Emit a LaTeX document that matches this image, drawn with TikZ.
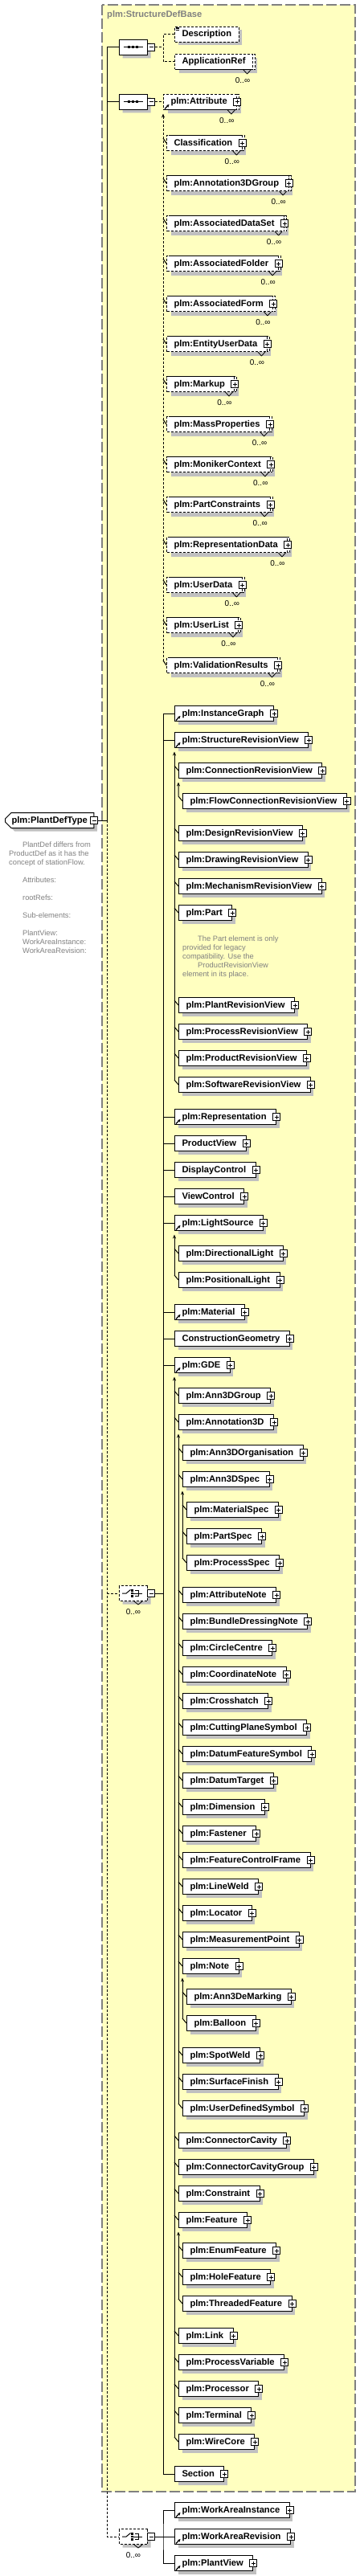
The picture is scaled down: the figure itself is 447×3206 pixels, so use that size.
\documentclass[tikz,border=0pt]{standalone}
\usepackage{fontspec}
\setmainfont{Liberation Sans}
\usetikzlibrary{shapes.misc,shadows,arrows.meta,calc}

\definecolor{basefill}{RGB}{255,255,192}
\definecolor{basegray}{RGB}{128,128,128}
\definecolor{shadowgray}{RGB}{192,192,192}
\definecolor{notegray}{RGB}{128,128,128}

\newcommand{\elemfont}{\fontsize{11.2}{13}\selectfont\bfseries}
\newcommand{\notefont}{\fontsize{9.3}{11}\selectfont}
\newcommand{\multfont}{\fontsize{10}{12}\selectfont}
\newcommand{\elemname}{}

% compositor icons
\newcommand{\seqicon}[1]{%
  \draw[line width=1pt] ([xshift=-12pt]#1.center) -- ([xshift=12pt]#1.center);
  \foreach \dx in {-6,-0.7,4.6}
    \fill ([shift={(\dx-1.5,-1.5)}]#1.center) rectangle ([shift={(\dx+1.5,1.5)}]#1.center);}
\newcommand{\choiceicon}[1]{%
  \draw[line width=1pt] ([shift={(-14,0)}]#1.center) -- ([shift={(-9,0)}]#1.center) -- ([shift={(-3.5,-4.5)}]#1.center);
  \foreach \dy in {-3.4,0,3.4}
    \fill ([shift={(-2.6,\dy-1.3)}]#1.center) rectangle ([shift={(0,\dy+1.3)}]#1.center);
  \draw[line width=1pt] ([shift={(1.5,-3.4)}]#1.center) -- ([shift={(6,-3.4)}]#1.center) -- ([shift={(6,3.4)}]#1.center) -- ([shift={(1.5,3.4)}]#1.center)
    (#1.center) -- ([shift={(11,0)}]#1.center);}

\tikzset{
  conn/.style={line width=1pt},
  optconn/.style={line width=1pt, dash pattern=on 3pt off 2pt},
  boxshadow/.style={drop shadow={shadow xshift=4pt, shadow yshift=-4pt, fill=shadowgray, opacity=1}},
  plusbox/.style={draw, solid, fill=white, line width=1pt, minimum size=9pt, inner sep=0pt,
    path picture={\draw[line width=1pt]
      ([xshift=2pt]path picture bounding box.west) -- ([xshift=-2pt]path picture bounding box.east)
      ([yshift=-2pt]path picture bounding box.north) -- ([yshift=2pt]path picture bounding box.south);}},
  minusbox/.style={draw, solid, fill=white, line width=1pt, minimum size=9pt, inner sep=0pt,
    path picture={\draw[line width=1pt]
      ([xshift=2pt]path picture bounding box.west) -- ([xshift=-2pt]path picture bounding box.east);}},
  plusmark/.style={execute at end node={\hspace*{3pt}},
    append after command={node[plusbox] at (\elemname.east) {}}},
  notchline/.style={solid, line width=0.8pt},
  mult/.style={font=\multfont, inner sep=0pt},
  elembox/.style={draw, fill=white, line width=1pt, anchor=west, font=\elemfont,
    minimum height=19pt, inner xsep=9pt, inner ysep=0pt, text height=8.5pt, text depth=2.5pt,
    append after command={\pgfextra{\xdef\elemname{\tikzlastnode}}}},
  optbox/.style={dash pattern=on 3pt off 2pt},
  manybox/.style={drop shadow={shadow xshift=5pt, shadow yshift=-5pt, fill=shadowgray, opacity=1},
    copy shadow={shadow xshift=3pt, shadow yshift=0pt, draw=black, fill=white, line width=1pt, dash pattern=on 3pt off 2pt},
    append after command={
      ([shift={(-12,0)}]\elemname.south east) edge[notchline] ([shift={(-7.5,5)}]\elemname.south east)
      ([shift={(-7.5,5)}]\elemname.south east) edge[notchline] ([shift={(-3,0)}]\elemname.south east)
      node[mult] at ([shift={(-13,13)}]\elemname.south east) {0..∞}}},
  refarrow/.style={solid, line width=1.2pt, -{Stealth[length=3.5pt,width=3.5pt]}},
  refmark/.style={append after command={
      ([shift={(2,-1.5)}]\elemname.south west) edge[refarrow] ([shift={(7.5,-7)}]\elemname.south west)}},
  docline/.style={solid, line width=0.7pt},
  docmark/.style={append after command={
      ([shift={(1.5,1.2)}]\elemname.north west) edge[docline] ([shift={(5.5,1.2)}]\elemname.north west)
      ([shift={(1.5,2.8)}]\elemname.north west) edge[docline] ([shift={(5.5,2.8)}]\elemname.north west)
      ([shift={(1.5,4.4)}]\elemname.north west) edge[docline] ([shift={(5.5,4.4)}]\elemname.north west)}},
  elem/.style={elembox, boxshadow, plusmark},
  refelem/.style={elem, refmark},
  optmany/.style={elembox, optbox, manybox, plusmark},
  seqbox/.style={chamfered rectangle, chamfered rectangle xsep=5pt, draw, fill=white, line width=1pt,
    minimum width=35pt, minimum height=19pt, inner sep=0pt, anchor=west, boxshadow},
  choicebox/.style={seqbox, dash pattern=on 3pt off 2pt,
    append after command={
      ([shift={(1,0)}]\tikzlastnode.south) edge[notchline] ([shift={(6,4)}]\tikzlastnode.south)
      ([shift={(6,4)}]\tikzlastnode.south) edge[notchline] ([shift={(11,0)}]\tikzlastnode.south)
      node[mult] at ([shift={(0,13)}]\tikzlastnode.south) {0..∞}}},
  typebox/.style={chamfered rectangle, chamfered rectangle corners={north west,south west},
    chamfered rectangle xsep=4pt, draw, fill=white, line width=1pt, font=\elemfont, anchor=west,
    minimum height=19pt, inner xsep=4pt, inner ysep=0pt, text height=8.5pt, text depth=2.5pt, boxshadow},
  notetext/.style={font=\notefont, text=notegray, align=left, anchor=north west, inner sep=0pt},
  basebox/.style={draw=basegray, fill=basefill, line width=1.2pt, dash pattern=on 13pt off 4pt},
  basetitle/.style={font=\elemfont, text=basegray, anchor=west, inner sep=0pt}
}

\begin{document}
\begin{tikzpicture}[x=1pt, y=-1pt, >={Stealth[length=5pt,width=4pt]}]
\useasboundingbox (0,0) rectangle (447,3206);

% Base type
\draw[basebox] (127,6) rectangle (442,3101);
\node[basetitle] (basename) at (133,19) {plm:StructureDefBase};

% Complex type
\node[typebox] (pdt) at (6,1021) {plm:PlantDefType};
\node[minusbox] (pdtx) at (pdt.east) {};
\node[notetext] (pdtnote) at (11,1047.5) {\hspace*{17pt}PlantDef differs from\\
ProductDef as it has the\\
concept of stationFlow.\\[11pt]
\hspace*{17pt}Attributes:\\[11pt]
\hspace*{17pt}rootRefs:\\[11pt]
\hspace*{17pt}Sub-elements:\\[11pt]
\hspace*{17pt}PlantView:\\
\hspace*{17pt}WorkAreaInstance:\\
\hspace*{17pt}WorkAreaRevision:};

% Sequences
\node[seqbox] (s1) at (148,59) {};
\node[minusbox, anchor=west] (s1x) at ([xshift=-1pt]s1.east) {};
\seqicon{s1}
\node[seqbox] (s2) at (148,127) {};
\node[minusbox, anchor=west] (s2x) at ([xshift=-1pt]s2.east) {};
\seqicon{s2}

% Choices
\node[choicebox] (c1) at (148,1983) {};
\node[minusbox, anchor=west] (c1x) at ([xshift=-1pt]c1.east) {};
\choiceicon{c1}
\node[choicebox] (c2) at (148,3157) {};
\node[minusbox, anchor=west] (c2x) at ([xshift=-1pt]c2.east) {};
\choiceicon{c2}

% First sequence
\node[elembox, boxshadow, optbox, docmark] (desc) at (217,43) {Description};
\node[elembox, optbox, manybox] (appref) at (217,77) {ApplicationRef};

% Second sequence
\node[optmany, refmark] (attr) at (203,127) {plm:Attribute};
\node[optmany] (classif) at (207,178) {Classification};
\node[optmany] (a3dgrp) at (207,228) {plm:Annotation3DGroup};
\node[optmany] (adata) at (207,278) {plm:AssociatedDataSet};
\node[optmany] (afolder) at (207,328) {plm:AssociatedFolder};
\node[optmany] (aform) at (207,378) {plm:AssociatedForm};
\node[optmany] (eud) at (207,428) {plm:EntityUserData};
\node[optmany] (markup) at (207,478) {plm:Markup};
\node[optmany] (massp) at (207,528) {plm:MassProperties};
\node[optmany] (moniker) at (207,578) {plm:MonikerContext};
\node[optmany] (partc) at (207,628) {plm:PartConstraints};
\node[optmany] (repdata) at (207,678) {plm:RepresentationData};
\node[optmany] (udata) at (207,728) {plm:UserData};
\node[optmany] (ulist) at (207,778) {plm:UserList};
\node[optmany] (valres) at (207,828) {plm:ValidationResults};

% First choice
\node[refelem] (instg) at (217,888) {plm:InstanceGraph};
\node[refelem] (srv) at (217,921) {plm:StructureRevisionView};
\node[elem] (conrv) at (222,959) {plm:ConnectionRevisionView};
\node[elem] (flowrv) at (227,997) {plm:FlowConnectionRevisionView};
\node[elem] (desrv) at (222,1037) {plm:DesignRevisionView};
\node[elem] (drawrv) at (222,1070) {plm:DrawingRevisionView};
\node[elem] (mechrv) at (222,1103) {plm:MechanismRevisionView};
\node[elem] (part) at (222,1136) {plm:Part};
\node[notetext] (partnote) at (227,1164.5) {\hspace*{19pt}The Part element is only\\
provided for legacy\\
compatibility. Use the\\
\hspace*{19pt}ProductRevisionView\\
element in its place.};
\node[elem] (plantrv) at (222,1251) {plm:PlantRevisionView};
\node[elem] (procrv) at (222,1284) {plm:ProcessRevisionView};
\node[elem] (prodrv) at (222,1317) {plm:ProductRevisionView};
\node[elem] (softrv) at (222,1350) {plm:SoftwareRevisionView};
\node[refelem] (repr) at (217,1390) {plm:Representation};
\node[elem] (prodview) at (217,1423) {ProductView};
\node[elem] (dispctl) at (217,1456) {DisplayControl};
\node[elem] (viewctl) at (217,1489) {ViewControl};
\node[refelem] (light) at (217,1522) {plm:LightSource};
\node[elem] (dirlight) at (222,1560) {plm:DirectionalLight};
\node[elem] (poslight) at (222,1593) {plm:PositionalLight};
\node[refelem] (material) at (217,1633) {plm:Material};
\node[elem] (cgeom) at (217,1666) {ConstructionGeometry};
\node[refelem] (gde) at (217,1699) {plm:GDE};
\node[elem] (ann3dgrp) at (222,1737) {plm:Ann3DGroup};
\node[elem] (ann3d) at (222,1770) {plm:Annotation3D};
\node[elem] (ann3dorg) at (227,1808) {plm:Ann3DOrganisation};
\node[elem] (ann3dspec) at (227,1841) {plm:Ann3DSpec};
\node[elem] (matspec) at (232,1879) {plm:MaterialSpec};
\node[elem] (partspec) at (232,1912) {plm:PartSpec};
\node[elem] (procspec) at (232,1945) {plm:ProcessSpec};
\node[elem] (attrnote) at (227,1985) {plm:AttributeNote};
\node[elem] (bundle) at (227,2018) {plm:BundleDressingNote};
\node[elem] (circlec) at (227,2051) {plm:CircleCentre};
\node[elem] (coordn) at (227,2084) {plm:CoordinateNote};
\node[elem] (crossh) at (227,2117) {plm:Crosshatch};
\node[elem] (cutplane) at (227,2150) {plm:CuttingPlaneSymbol};
\node[elem] (datumfs) at (227,2183) {plm:DatumFeatureSymbol};
\node[elem] (datumt) at (227,2216) {plm:DatumTarget};
\node[elem] (dimen) at (227,2249) {plm:Dimension};
\node[elem] (fastener) at (227,2282) {plm:Fastener};
\node[elem] (fcf) at (227,2315) {plm:FeatureControlFrame};
\node[elem] (lineweld) at (227,2348) {plm:LineWeld};
\node[elem] (locator) at (227,2381) {plm:Locator};
\node[elem] (mpoint) at (227,2414) {plm:MeasurementPoint};
\node[elem] (notee) at (227,2447) {plm:Note};
\node[elem] (emarking) at (232,2485) {plm:Ann3DeMarking};
\node[elem] (balloon) at (232,2518) {plm:Balloon};
\node[elem] (spotweld) at (227,2558) {plm:SpotWeld};
\node[elem] (surff) at (227,2591) {plm:SurfaceFinish};
\node[elem] (udsym) at (227,2624) {plm:UserDefinedSymbol};
\node[elem] (ccav) at (222,2664) {plm:ConnectorCavity};
\node[elem] (ccavgrp) at (222,2697) {plm:ConnectorCavityGroup};
\node[elem] (constr) at (222,2730) {plm:Constraint};
\node[elem] (feature) at (222,2763) {plm:Feature};
\node[elem] (enumf) at (227,2801) {plm:EnumFeature};
\node[elem] (holef) at (227,2834) {plm:HoleFeature};
\node[elem] (threadf) at (227,2867) {plm:ThreadedFeature};
\node[elem] (linkk) at (222,2907) {plm:Link};
\node[elem] (procvar) at (222,2940) {plm:ProcessVariable};
\node[elem] (processor) at (222,2973) {plm:Processor};
\node[elem] (terminal) at (222,3006) {plm:Terminal};
\node[elem] (wirecore) at (222,3039) {plm:WireCore};
\node[elem] (section) at (217,3079) {Section};

% Second choice
\node[refelem] (wai) at (217,3124) {plm:WorkAreaInstance};
\node[refelem] (war) at (217,3157) {plm:WorkAreaRevision};
\node[refelem] (plantview) at (217,3190) {plm:PlantView};

% Content model of the type
\coordinate (trunk) at (133,1021);
\draw[conn] (pdtx.east) -- (trunk);
\draw[conn] (s1.west) -- (trunk |- s1.west) -- (trunk);
\draw[conn] (s2.west) -- (trunk |- s2.west);
\draw[optconn] (trunk) -- (trunk |- c2.west) -- (c2.west);
\draw[optconn] (trunk |- c1.west) -- (c1.west);

% First sequence
\coordinate (s1j) at ([xshift=10pt]s1x.east);
\draw[optconn] (s1x.east) -- (s1j) (desc.west) -| (s1j) |- (appref.west);

% Second sequence
\draw[optconn] (s2x.east) -- (attr.west);
\draw[optconn,<-] ([yshift=-4.5pt]attr.south west) -- ($(attr.south west |- valres.west)+(0,-6)$);
\foreach \m in {classif,a3dgrp,adata,afolder,aform,eud,markup,massp,moniker,partc,repdata,udata,ulist,valres}
  \draw[conn] ($(attr.south west |- \m.west)+(0,-6)$) -- (\m.west);

% First choice
\coordinate (bus) at ([xshift=10pt]c1x.east);
\draw[conn] (c1x.east) -- (bus);
\draw[conn] (bus |- instg.west) -- (bus |- section.west);
\foreach \n in {instg,srv,repr,prodview,dispctl,viewctl,light,material,cgeom,gde,section}
  \draw[conn] (bus |- \n.west) -- (\n.west);

% Substitution groups
\draw[conn,<-] ([yshift=-4.5pt]srv.south west) -- ($(srv.south west |- softrv.west)+(0,-6)$);
\foreach \m in {conrv,desrv,drawrv,mechrv,part,plantrv,procrv,prodrv,softrv}
  \draw[conn] ($(srv.south west |- \m.west)+(0,-6)$) -- (\m.west);
\draw[conn,<-] ([yshift=-4.5pt]conrv.south west) -- ($(conrv.south west |- flowrv.west)+(0,-6)$) -- (flowrv.west);
\draw[conn,<-] ([yshift=-4.5pt]light.south west) -- ($(light.south west |- poslight.west)+(0,-6)$);
\foreach \m in {dirlight,poslight}
  \draw[conn] ($(light.south west |- \m.west)+(0,-6)$) -- (\m.west);
\draw[conn,<-] ([yshift=-4.5pt]gde.south west) -- ($(gde.south west |- wirecore.west)+(0,-6)$);
\foreach \m in {ann3dgrp,ann3d,ccav,ccavgrp,constr,feature,linkk,procvar,processor,terminal,wirecore}
  \draw[conn] ($(gde.south west |- \m.west)+(0,-6)$) -- (\m.west);
\draw[conn,<-] ([yshift=-4.5pt]ann3d.south west) -- ($(ann3d.south west |- udsym.west)+(0,-6)$);
\foreach \m in {ann3dorg,ann3dspec,attrnote,bundle,circlec,coordn,crossh,cutplane,datumfs,datumt,dimen,fastener,fcf,lineweld,locator,mpoint,notee,spotweld,surff,udsym}
  \draw[conn] ($(ann3d.south west |- \m.west)+(0,-6)$) -- (\m.west);
\draw[conn,<-] ([yshift=-4.5pt]ann3dspec.south west) -- ($(ann3dspec.south west |- procspec.west)+(0,-6)$);
\foreach \m in {matspec,partspec,procspec}
  \draw[conn] ($(ann3dspec.south west |- \m.west)+(0,-6)$) -- (\m.west);
\draw[conn,<-] ([yshift=-4.5pt]notee.south west) -- ($(notee.south west |- balloon.west)+(0,-6)$);
\foreach \m in {emarking,balloon}
  \draw[conn] ($(notee.south west |- \m.west)+(0,-6)$) -- (\m.west);
\draw[conn,<-] ([yshift=-4.5pt]feature.south west) -- ($(feature.south west |- threadf.west)+(0,-6)$);
\foreach \m in {enumf,holef,threadf}
  \draw[conn] ($(feature.south west |- \m.west)+(0,-6)$) -- (\m.west);

% Second choice
\coordinate (bus2) at ([xshift=10pt]c2x.east);
\draw[conn] (c2x.east) -- (bus2);
\draw[conn] (wai.west) -| (bus2) |- (plantview.west);
\draw[conn] (bus2) -- (war.west);

\end{tikzpicture}
\end{document}
